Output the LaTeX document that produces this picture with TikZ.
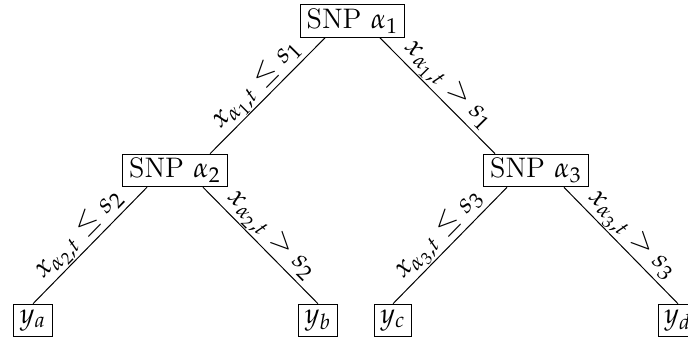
\documentclass[tikz,border=0pt]{standalone}
\usepackage{mathpazo}
\usetikzlibrary{calc,positioning}
\tikzset{snpbox/.style={draw,inner xsep=2.5pt,inner ysep=1.5pt,minimum height=13pt},
         leafbox/.style={draw,inner xsep=2.5pt,inner ysep=1.5pt,minimum height=13pt},
         split/.style={midway,sloped,above,inner sep=0.3pt}}

\begin{document}
\begin{tikzpicture}[x=0.4pt,y=-0.4pt,font=\fontsize{11.3}{13}\selectfont]
\useasboundingbox (0,0) rectangle (688,338);
% splitting nodes
\node[snpbox] (snp1) at (352.5,21) {SNP $\alpha_1$};
\node[snpbox] (snp2) at (175,170.5) {SNP $\alpha_2$};
\node[snpbox] (snp3) at (536,170.5) {SNP $\alpha_3$};
% leaves
\node[leafbox] (ya) at (33,320.5) {$y_a$};
\node[leafbox] (yb) at (318,320.5) {$y_b$};
\node[leafbox] (yc) at (393,320.5) {$y_c$};
\node[leafbox] (yd) at (678,320.5) {$y_d$};
% edges
\draw ($(snp1.south)+(-27.5,0)$) -- node[split] {$x_{\alpha_1,t}\leq s_1$} ($(snp2.north)+(35,0)$);
\draw ($(snp1.south)+(27.5,0)$) -- node[split] {$x_{\alpha_1,t}>s_1$} ($(snp3.north)+(-41,0)$);
\draw ($(snp2.south)+(-28,0)$) -- node[split] {$x_{\alpha_2,t}\leq s_2$} (ya.north);
\draw ($(snp2.south)+(28,0)$) -- node[split] {$x_{\alpha_2,t}>s_2$} (yb.north);
\draw ($(snp3.south)+(-29,0)$) -- node[split] {$x_{\alpha_3,t}\leq s_3$} (yc.north);
\draw ($(snp3.south)+(28,0)$) -- node[split] {$x_{\alpha_3,t}>s_3$} (yd.north);
\end{tikzpicture}
\end{document}
